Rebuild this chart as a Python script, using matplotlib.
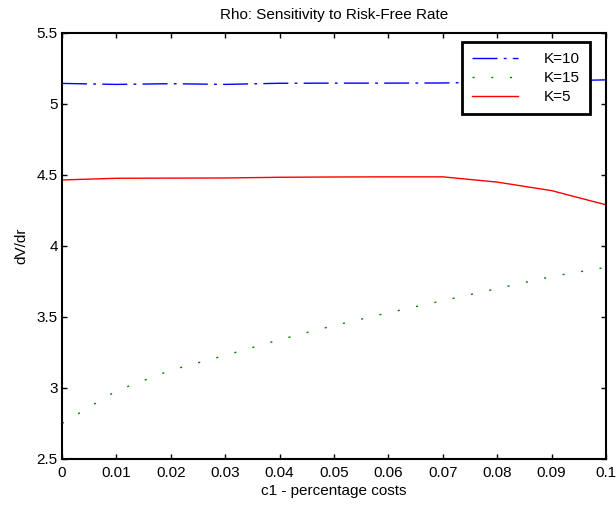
import matplotlib
matplotlib.use('Agg')
import matplotlib.pyplot as plt

plt.rcParams['font.family'] = ['Liberation Sans', 'DejaVu Sans']
plt.rcParams['font.size'] = 11

# Data
c1 = [0, 0.01, 0.02, 0.03, 0.04, 0.05, 0.06, 0.07, 0.08, 0.09, 0.1]
rho_k10 = [5.145, 5.138, 5.143, 5.138, 5.146, 5.147, 5.147, 5.148, 5.155, 5.162, 5.17]
rho_k15 = [2.75, 2.98, 3.125, 3.23, 3.34, 3.44, 3.53, 3.615, 3.70, 3.785, 3.85]
rho_k5 = [4.465, 4.477, 4.478, 4.479, 4.484, 4.486, 4.487, 4.487, 4.45, 4.39, 4.29]

fig = plt.figure(figsize=(6.16, 5.09), dpi=100)
ax = fig.add_axes([62 / 616, 50 / 509, 544 / 616, 426 / 509])

ax.plot(c1, rho_k10, color='#0000ff', lw=1, linestyle=(0, (18, 4.5, 2, 4.5)), label='K=10')
ax.plot(c1, rho_k15, color='#008000', lw=1, linestyle=(0, (1.5, 12)), label='K=15')
ax.plot(c1, rho_k5, color='#ff0000', lw=1, label='K=5')

ax.set_xlim(0, 0.1)
ax.set_ylim(2.5, 5.5)
ax.set_xticks(c1)
ax.set_xticklabels(['0', '0.01', '0.02', '0.03', '0.04', '0.05', '0.06', '0.07', '0.08', '0.09', '0.1'])
ax.set_yticks([2.5, 3, 3.5, 4, 4.5, 5, 5.5])
ax.set_yticklabels(['2.5', '3', '3.5', '4', '4.5', '5', '5.5'])
ax.tick_params(direction='in', top=True, right=True, length=3.6, width=1, labelsize=11)
ax.tick_params(axis='x', pad=5)
ax.tick_params(axis='y', pad=3)
for s in ax.spines.values():
    s.set_linewidth(1.5)

ax.set_xlabel('c1 - percentage costs', fontsize=11, labelpad=3)
ax.set_ylabel('dV/dr', fontsize=11, labelpad=6)
ax.set_title('Rho: Sensitivity to Risk-Free Rate', fontsize=11, pad=10)

leg = ax.legend(loc='upper right', bbox_to_anchor=(0.9706, 0.978), borderaxespad=0,
                fancybox=False, edgecolor='black', framealpha=1, fontsize=11,
                handlelength=3.0, handletextpad=1.7, labelspacing=0.32,
                borderpad=0.65)
leg.get_frame().set_linewidth(2)

fig.savefig('out.png', dpi=100)
